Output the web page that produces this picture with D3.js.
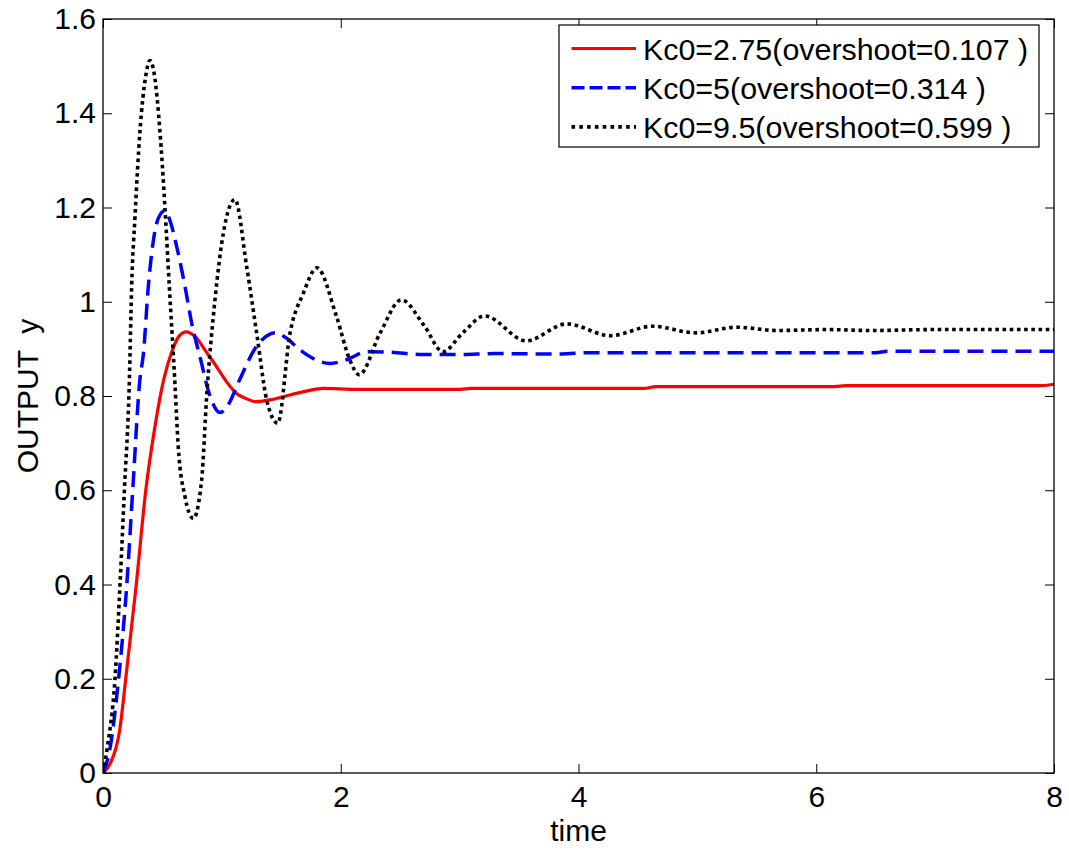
<!DOCTYPE html>
<html>
<head>
<meta charset="utf-8">
<script src="https://cdn.jsdelivr.net/npm/d3@7"></script>
<style>
  html, body { margin: 0; padding: 0; background: #fff; }
  svg { display: block; font-family: "Liberation Sans", Arial, sans-serif; }
</style>
</head>
<body>
<svg id="chart" width="1069" height="850"></svg>
<script>
// Step responses of the closed loop for three controller gains
const tRed = [0, 0.06, 0.14, 0.19, 0.28, 0.36, 0.437, 0.51, 0.58, 0.64, 0.70, 0.78, 0.87, 0.956, 1.04, 1.12, 1.2, 1.29, 1.43, 1.57, 1.72, 1.85, 2.13, 2.5, 3.0, 3.1, 4.55, 4.65, 6.15, 6.25, 7.9, 8.0];
const yRed = [0, 0.02, 0.09, 0.197, 0.40, 0.60, 0.735, 0.834, 0.895, 0.927, 0.936, 0.925, 0.893, 0.862, 0.83, 0.806, 0.795, 0.788, 0.793, 0.802, 0.811, 0.816, 0.814, 0.814, 0.814, 0.816, 0.816, 0.820, 0.820, 0.822, 0.822, 0.825];

const tBlue = [0, 0.06, 0.13, 0.2, 0.25, 0.31, 0.34, 0.381, 0.43, 0.465, 0.52, 0.56, 0.62, 0.69, 0.75, 0.816, 0.9, 0.984, 1.05, 1.15, 1.29, 1.38, 1.447, 1.53, 1.657, 1.78, 1.91, 2.05, 2.22, 2.4, 2.7, 3.0, 3.3, 3.84, 4.1, 6.5, 6.6, 8.0];
const yBlue = [0, 0.054, 0.197, 0.399, 0.60, 0.834, 0.89, 1.032, 1.14, 1.177, 1.193, 1.175, 1.117, 1.032, 0.95, 0.883, 0.80, 0.765, 0.78, 0.835, 0.905, 0.928, 0.934, 0.925, 0.898, 0.878, 0.869, 0.877, 0.894, 0.893, 0.888, 0.888, 0.890, 0.889, 0.892, 0.892, 0.895, 0.895];

const tBlack = [0, 0.036, 0.10, 0.143, 0.18, 0.222, 0.241, 0.269, 0.311, 0.36, 0.395, 0.43, 0.479, 0.521, 0.558, 0.605, 0.633, 0.69, 0.76, 0.83, 0.872, 0.942, 1.012, 1.11, 1.209, 1.293, 1.377, 1.47, 1.573, 1.685, 1.80, 1.965, 2.077, 2.156, 2.33, 2.51, 2.70, 2.86, 3.03, 3.21, 3.56, 3.90, 4.27, 4.62, 4.99, 5.33, 5.67, 6.09, 6.45, 7.0, 8.0];
const yBlack = [0, 0.054, 0.197, 0.399, 0.60, 0.834, 1.032, 1.18, 1.362, 1.48, 1.512, 1.485, 1.362, 1.20, 1.032, 0.827, 0.692, 0.586, 0.54, 0.622, 0.799, 1.004, 1.145, 1.217, 1.074, 0.933, 0.792, 0.742, 0.933, 1.018, 1.072, 0.968, 0.876, 0.845, 0.933, 1.004, 0.95, 0.894, 0.935, 0.970, 0.917, 0.953, 0.928, 0.948, 0.934, 0.946, 0.939, 0.941, 0.939, 0.941, 0.941];

const seriesLabels = ["Kc0=2.75(overshoot=0.107 )", "Kc0=5(overshoot=0.314 )", "Kc0=9.5(overshoot=0.599 )"];
const xTicks = [0, 2, 4, 6, 8];
const yTicks = [0, 0.2, 0.4, 0.6, 0.8, 1, 1.2, 1.4, 1.6];
const xLabel = "time";
const yLabel = "OUTPUT  y";

const W = 1069, H = 850;
const margin = { left: 103, top: 19, right: 15, bottom: 77 };
const iw = W - margin.left - margin.right;
const ih = H - margin.top - margin.bottom;

const svg = d3.select("#chart");
const g = svg.append("g").attr("transform", `translate(${margin.left},${margin.top})`);

const x = d3.scaleLinear().domain([0, 8]).range([0, iw]);
const y = d3.scaleLinear().domain([0, 1.6]).range([ih, 0]);

const fontSize = 30;
const tickLen = 9;

// Axes with inward ticks on all four sides (boxed frame)
const fmt = d => d3.format("~g")(d);
const bottomAxis = g.append("g").attr("transform", `translate(0,${ih})`)
  .call(d3.axisBottom(x).tickValues(xTicks).tickFormat(fmt).tickSizeInner(-tickLen).tickSizeOuter(0).tickPadding(13));
const leftAxis = g.append("g")
  .call(d3.axisLeft(y).tickValues(yTicks).tickFormat(fmt).tickSizeInner(-tickLen).tickSizeOuter(0).tickPadding(7));
const topAxis = g.append("g")
  .call(d3.axisTop(x).tickValues(xTicks).tickFormat("").tickSizeInner(-tickLen).tickSizeOuter(0));
const rightAxis = g.append("g").attr("transform", `translate(${iw},0)`)
  .call(d3.axisRight(y).tickValues(yTicks).tickFormat("").tickSizeInner(-tickLen).tickSizeOuter(0));

[bottomAxis, leftAxis, topAxis, rightAxis].forEach(a => {
  a.select(".domain").remove();
  a.selectAll(".tick line").attr("stroke", "#000").attr("stroke-width", 1);
  a.selectAll(".tick text").attr("fill", "#000").style("font-size", fontSize + "px")
    .style("font-family", "'Liberation Sans', Arial, sans-serif");
});
bottomAxis.selectAll(".tick text").attr("dy", "0.71em");

// Curves
const line = d3.line().x(d => x(d[0])).y(d => y(d[1])).curve(d3.curveMonotoneX);
const series = [
  { t: tRed, v: yRed, color: "#ff0000", dash: null, width: 3.2, legendDash: null },
  { t: tBlue, v: yBlue, color: "#0000ff", dash: "16,8", width: 3.5, legendDash: "13,5" },
  { t: tBlack, v: yBlack, color: "#000000", dash: "3.6,3.6", width: 3.6, legendDash: "3.6,4.2" }
];

svg.append("clipPath").attr("id", "plotclip")
  .append("rect").attr("x", 0).attr("y", -5).attr("width", iw).attr("height", ih + 5);

const curves = g.append("g").attr("clip-path", "url(#plotclip)");
series.forEach(s => {
  curves.append("path")
    .datum(s.t.map((t, i) => [t, s.v[i]]))
    .attr("d", line)
    .attr("fill", "none")
    .attr("stroke", s.color)
    .attr("stroke-width", s.width)
    .attr("stroke-dasharray", s.dash)
    .attr("stroke-linejoin", "round");
});

// Frame
g.append("rect").attr("x", 0).attr("y", 0).attr("width", iw).attr("height", ih)
  .attr("fill", "none").attr("stroke", "#000").attr("stroke-width", 1.3);

// Axis labels
svg.append("text").attr("x", margin.left + iw / 2).attr("y", 841)
  .attr("text-anchor", "middle").style("font-size", fontSize + "px").text(xLabel);
svg.append("text").attr("transform", `translate(38,${margin.top + ih / 2}) rotate(-90)`)
  .attr("text-anchor", "middle").style("font-size", fontSize + "px")
  .style("white-space", "pre").text(yLabel);

// Legend
const legend = svg.append("g").attr("transform", "translate(559,25)");
legend.append("rect").attr("x", 0).attr("y", 0).attr("width", 480).attr("height", 122)
  .attr("fill", "#fff").attr("stroke", "#000").attr("stroke-width", 1.2);
series.forEach((s, i) => {
  const cy = 23.5 + i * 39.2;
  legend.append("line").attr("x1", 12.5).attr("x2", 77).attr("y1", cy).attr("y2", cy)
    .attr("stroke", s.color).attr("stroke-width", s.width)
    .attr("stroke-dasharray", s.legendDash);
  legend.append("text").attr("x", 84).attr("y", cy + 11)
    .style("font-size", "30.4px").text(seriesLabels[i]);
});
</script>
</body>
</html>
